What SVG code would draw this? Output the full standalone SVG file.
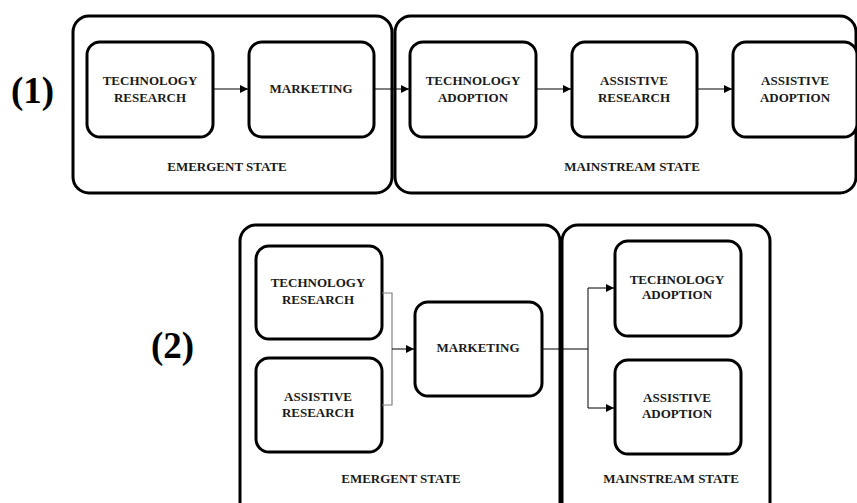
<svg xmlns="http://www.w3.org/2000/svg" width="857" height="503" viewBox="0 0 857 503">
<style>
.frame{fill:#fff;stroke:#000;stroke-width:3}
.box{fill:#fff;stroke:#000;stroke-width:3}
.t{font-family:"Liberation Serif","Times New Roman",serif;font-weight:bold;font-size:13px;text-anchor:middle;fill:#1a1a1a}
.big{font-family:"Liberation Serif","Times New Roman",serif;font-weight:bold;font-size:37px;fill:#000}
.c{fill:none;stroke:#000;stroke-width:1}
.g{fill:none;stroke:#808080;stroke-width:1.2}
</style>
<defs>
<marker id="ah" viewBox="0 0 10 10" refX="10" refY="5" markerWidth="8" markerHeight="8" markerUnits="userSpaceOnUse" orient="auto">
<path d="M0,0 L10,5 L0,10 z" fill="#000"/>
</marker>
</defs>
<rect width="857" height="503" fill="#fff"/>

<!-- Diagram 1 -->
<text class="big" x="11" y="103">(1)</text>
<g id="d1-emergent"><rect class="frame" x="73" y="16" width="319" height="177" rx="16"/><text class="t" x="227" y="171">EMERGENT STATE</text></g>
<g id="d1-mainstream"><rect class="frame" x="395" y="16" width="461" height="177" rx="16"/><text class="t" x="632" y="171">MAINSTREAM STATE</text></g>
<g id="d1-tr"><rect class="box" x="87" y="42" width="126" height="95" rx="13"/><text class="t" x="150" y="85">TECHNOLOGY</text><text class="t" x="150" y="102">RESEARCH</text></g>
<g id="d1-mk"><rect class="box" x="249" y="42" width="125" height="95" rx="13"/><text class="t" x="311" y="93">MARKETING</text></g>
<g id="d1-ta"><rect class="box" x="410" y="42" width="126" height="95" rx="13"/><text class="t" x="473" y="85">TECHNOLOGY</text><text class="t" x="473" y="102">ADOPTION</text></g>
<g id="d1-ar"><rect class="box" x="572" y="42" width="125" height="95" rx="13"/><text class="t" x="634" y="85">ASSISTIVE</text><text class="t" x="634" y="102">RESEARCH</text></g>
<g id="d1-aa"><rect class="box" x="733" y="42" width="124" height="95" rx="13"/><text class="t" x="795" y="85">ASSISTIVE</text><text class="t" x="795" y="102">ADOPTION</text></g>
<g id="d1-connectors">
<line class="c" x1="213" y1="89" x2="248" y2="89" marker-end="url(#ah)"/>
<line class="c" x1="374" y1="89" x2="409" y2="89" marker-end="url(#ah)"/>
<line class="c" x1="536" y1="89" x2="571" y2="89" marker-end="url(#ah)"/>
<line class="c" x1="697" y1="89" x2="732" y2="89" marker-end="url(#ah)"/>
</g>

<!-- Diagram 2 -->
<text class="big" x="151" y="358">(2)</text>
<g id="d2-emergent"><rect class="frame" x="240" y="225" width="320" height="300" rx="16"/><text class="t" x="401" y="483">EMERGENT STATE</text></g>
<g id="d2-mainstream"><rect class="frame" x="562" y="225" width="208" height="300" rx="16"/><text class="t" x="671" y="483">MAINSTREAM STATE</text></g>
<g id="d2-tr"><rect class="box" x="256" y="246" width="126" height="93" rx="13"/><text class="t" x="318" y="287">TECHNOLOGY</text><text class="t" x="318" y="304">RESEARCH</text></g>
<g id="d2-ar"><rect class="box" x="256" y="358" width="126" height="94" rx="13"/><text class="t" x="318" y="401">ASSISTIVE</text><text class="t" x="318" y="417">RESEARCH</text></g>
<g id="d2-mk"><rect class="box" x="415" y="302" width="127" height="94" rx="13"/><text class="t" x="478" y="352">MARKETING</text></g>
<g id="d2-ta"><rect class="box" x="615" y="241" width="126" height="95" rx="13"/><text class="t" x="677" y="284">TECHNOLOGY</text><text class="t" x="677" y="299">ADOPTION</text></g>
<g id="d2-aa"><rect class="box" x="615" y="360" width="126" height="94" rx="13"/><text class="t" x="677" y="402">ASSISTIVE</text><text class="t" x="677" y="418">ADOPTION</text></g>
<g id="d2-connectors">
<polyline class="g" points="382,293 392,293 392,405 382,405"/>
<line class="c" x1="392" y1="349" x2="414" y2="349" marker-end="url(#ah)"/>
<line class="c" x1="542" y1="349" x2="588" y2="349"/>
<polyline class="c" points="588,288 588,408"/>
<line class="c" x1="588" y1="288" x2="614" y2="288" marker-end="url(#ah)"/>
<line class="c" x1="588" y1="408" x2="614" y2="408" marker-end="url(#ah)"/>
</g>
</svg>
